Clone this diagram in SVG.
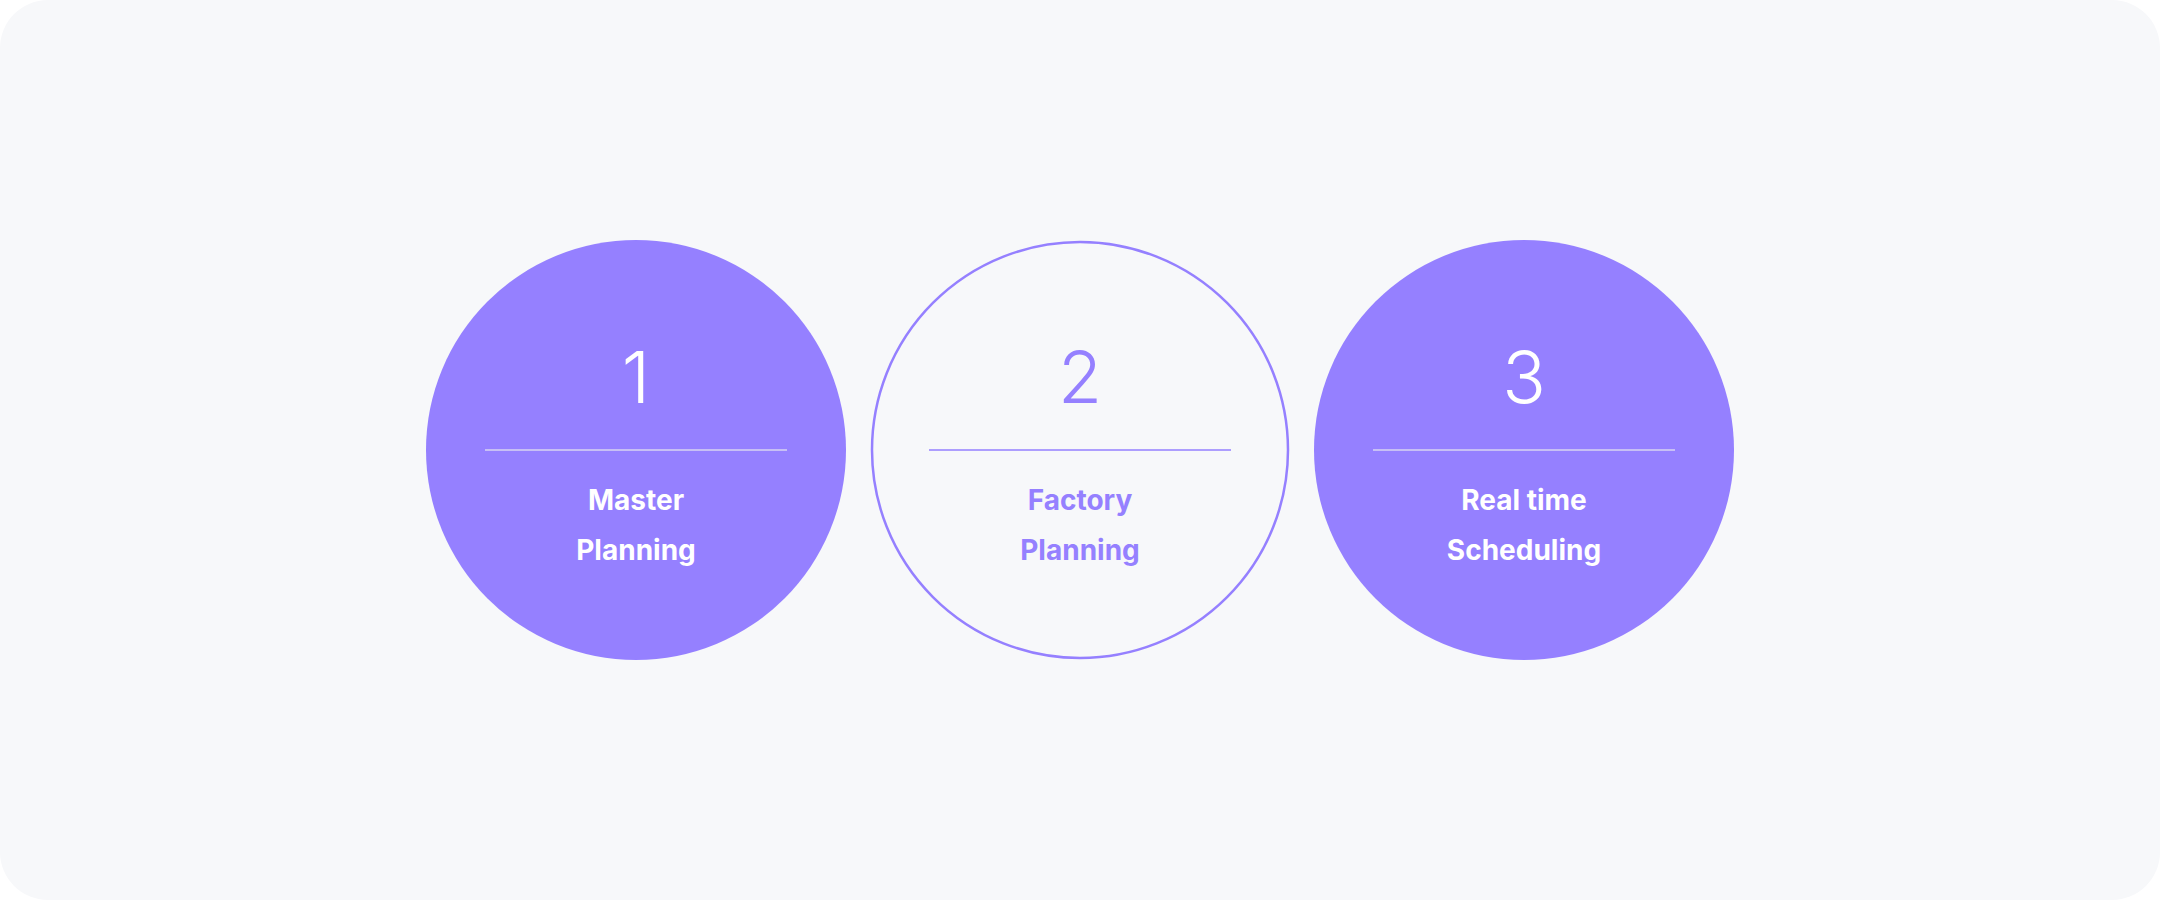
<svg xmlns="http://www.w3.org/2000/svg" width="2160" height="900" viewBox="0 0 2160 900">
<style>
.num{font-family:Inter,"Noto Sans",sans-serif;font-size:72px;font-weight:300;text-anchor:middle}
.lbl{font-family:Inter,"Noto Sans",sans-serif;font-size:28px;font-weight:700;text-anchor:middle}
.w{fill:#ffffff}
.p{fill:#9580ff}
</style>
<rect x="0" y="0" width="2160" height="900" fill="#ffffff"/>
<rect x="0" y="0" width="2160" height="900" rx="48" ry="48" fill="#f7f8fa"/>
<g id="node1">
<circle cx="636" cy="450" r="210" fill="#9580ff"/>
<text class="num w" x="636" y="403">1</text>
<line x1="485" y1="450" x2="787" y2="450" stroke="#d9d5f2" stroke-width="1.5"/>
<text class="lbl w" x="636" y="510">Master</text>
<text class="lbl w" x="636" y="560">Planning</text>
</g>
<g id="node2">
<circle cx="1080" cy="450" r="208" fill="none" stroke="#9580ff" stroke-width="2.5"/>
<text class="num p" x="1080" y="403">2</text>
<line x1="929" y1="450" x2="1231" y2="450" stroke="#9580ff" stroke-width="1.5"/>
<text class="lbl p" x="1080" y="510">Factory</text>
<text class="lbl p" x="1080" y="560">Planning</text>
</g>
<g id="node3">
<circle cx="1524" cy="450" r="210" fill="#9580ff"/>
<text class="num w" x="1524" y="403">3</text>
<line x1="1373" y1="450" x2="1675" y2="450" stroke="#d9d5f2" stroke-width="1.5"/>
<text class="lbl w" x="1524" y="510">Real time</text>
<text class="lbl w" x="1524" y="560">Scheduling</text>
</g>
<g id="connectors"></g>
</svg>
